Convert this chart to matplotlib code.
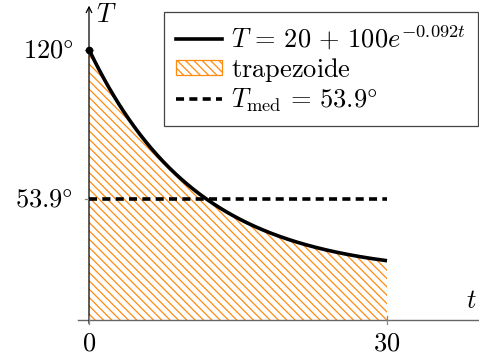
import numpy as np
import matplotlib
matplotlib.use("Agg")
import matplotlib.pyplot as plt
from matplotlib.patches import Patch
from matplotlib.lines import Line2D

plt.rcParams['mathtext.fontset'] = 'cm'
plt.rcParams['font.family'] = ['DejaVu Serif']
plt.rcParams['lines.scale_dashes'] = False
plt.rcParams['hatch.linewidth'] = 0.9

# data
T0 = 20
A = 100
k = 0.092
t_end = 30
T_med = 53.9
x_ticks = [0, 30]
x_tick_labels = ['$0$', '$30$']
y_ticks = [53.9, 120]
y_tick_labels = [r'$53.9\degree$', r'$120\degree$']

t = np.linspace(0, t_end, 300)
T = T0 + A * np.exp(-k * t)

fig = plt.figure(figsize=(4.79, 3.55), dpi=100)
ax = fig.add_axes([0, 0, 1, 1])
ax.set_xlim(-8.96, 39.26)
ax.set_ylim(-15.5, 142.0)
for s in ax.spines.values():
    s.set_visible(False)

HATCH = '\\\\\\\\'
ORANGE = '#ff8a10'

# hatched area
ax.fill_between(t, 0, T, facecolor='none', edgecolor=ORANGE, hatch=HATCH, linewidth=0)

# curve
ax.plot(t, T, color='black', lw=2.6, solid_capstyle='butt', zorder=4)
ax.plot([0], [T0 + A], 'o', color='black', ms=4.5, zorder=5)

# mean line
ax.plot([0, t_end], [T_med, T_med], color='black', lw=2.6, linestyle=(0, (5.8, 3.8)), zorder=4)

# axes lines
ax.plot([-1.1, 39.26], [0, 0], color='#666666', lw=1.0, zorder=3)
ax.annotate('', xy=(0, 139.5), xytext=(0, -1.5),
            arrowprops=dict(arrowstyle='->', lw=0.9, color='black', shrinkA=0, shrinkB=0), zorder=3)

# ticks
for xv, lab in zip(x_ticks, x_tick_labels):
    ax.plot([xv, xv], [-1.8, 1.8], color='#888888', lw=0.9, zorder=3)
    ax.text(xv, -4.5, lab, ha='center', va='top', fontsize=19)
for yv, lab in zip(y_ticks, y_tick_labels):
    ax.plot([-0.4, 0.4], [yv, yv], color='#888888', lw=0.9, zorder=3)
    ax.text(-1.6, yv, lab, ha='right', va='center', fontsize=19)

ax.text(0.7, 135.5, '$T$', ha='left', va='center', fontsize=19)
ax.text(38.5, 8.5, '$t$', ha='center', va='center', fontsize=19)

ax.set_xticks([])
ax.set_yticks([])

handles = [
    Line2D([], [], color='black', lw=2.6),
    Patch(facecolor='white', edgecolor=ORANGE, hatch=HATCH, linewidth=0.9),
    Line2D([], [], color='black', lw=2.6, linestyle=(0, (5.8, 3.8))),
]
labels = [r'$T\,=\,20\,+\,100e^{-0.092t}$', r'$\mathrm{trapezoide}$',
          r'$T_{\mathrm{med}}\,=\,53.9\degree$']
leg = ax.legend(handles, labels, loc='upper right', bbox_to_anchor=(0.998, 0.966),
                borderaxespad=0, fontsize=19, frameon=True, fancybox=False,
                edgecolor='#444444', framealpha=1, handlelength=1.75, handleheight=0.5,
                handletextpad=0.35, labelspacing=0.12, borderpad=0.45)
leg.get_frame().set_linewidth(0.9)

fig.savefig('out.png', dpi=100)
